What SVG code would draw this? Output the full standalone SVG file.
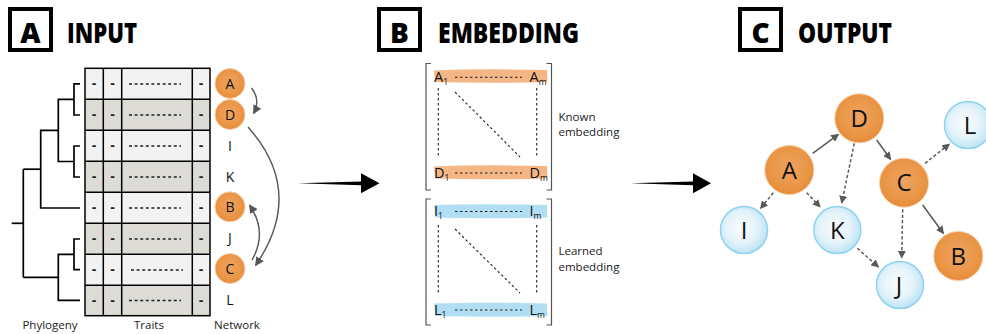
<svg xmlns="http://www.w3.org/2000/svg" width="986" height="334" viewBox="0 0 986 334">
<style>
.title{font-family:"Open Sans","Liberation Sans",sans-serif;font-weight:800;font-size:28px;fill:#000}
.box{fill:none;stroke:#000;stroke-width:4}
.lbl{font-family:"Open Sans","Liberation Sans",sans-serif;font-size:11.5px;fill:#222}
.nl{font-family:"Open Sans","Liberation Sans",sans-serif;font-size:14px;fill:#111;text-anchor:middle}
.big{font-family:"Open Sans","Liberation Sans",sans-serif;font-size:24px;fill:#111;text-anchor:middle}
.cell{font-family:"Liberation Sans",sans-serif;font-size:14px;font-weight:bold;fill:#222;text-anchor:middle}
.mx{font-family:"Open Sans","Liberation Sans",sans-serif;font-size:14.5px;fill:#111}
.sub{font-size:8.5px}
.tree{fill:none;stroke:#000;stroke-width:1.7}
.grid{fill:none;stroke:#000;stroke-width:1.5}
.dots{stroke:#222;stroke-width:1.3;stroke-dasharray:3,2.6}
.mdot{stroke:#222;stroke-width:1.1;stroke-dasharray:2.5,2.5;fill:none}
.brk{fill:none;stroke:#555;stroke-width:1.2}
.curve{fill:none;stroke:#555;stroke-width:1.4}
.edge{stroke:#595959;stroke-width:1.5;fill:none}
.dash{stroke-dasharray:3.2,2.2}
.orange{fill:url(#og);stroke:#f6cfa8;stroke-width:1}
.blue{fill:url(#bg);stroke:#8fd2f0;stroke-width:1.5}
</style>
<defs>
<radialGradient id="og" cx="50%" cy="45%" r="55%">
<stop offset="0" stop-color="#eea461"/>
<stop offset="0.8" stop-color="#e99443"/>
<stop offset="1" stop-color="#e58a36"/>
</radialGradient>
<radialGradient id="bg" cx="45%" cy="45%" r="55%">
<stop offset="0" stop-color="#f8fcfe"/>
<stop offset="0.6" stop-color="#e4f3fa"/>
<stop offset="1" stop-color="#bfe4f5"/>
</radialGradient>
<marker id="ah" viewBox="0 0 10 10" refX="9" refY="5" markerWidth="9" markerHeight="9" markerUnits="userSpaceOnUse" orient="auto">
<path d="M0,0 L10,5 L0,10 z" fill="#555"/>
</marker>
<marker id="ah2" viewBox="0 0 10 10" refX="9" refY="5" markerWidth="8" markerHeight="8" markerUnits="userSpaceOnUse" orient="auto">
<path d="M0,0 L10,5 L0,10 z" fill="#595959"/>
</marker>
</defs>
<rect width="986" height="334" fill="#fff"/>

<!-- Headers -->
<g id="header-A">
<rect class="box" x="10" y="9" width="41" height="41"/>
<text class="title" x="30.5" y="43" text-anchor="middle">A</text>
<text class="title" x="67" y="43" textLength="70" lengthAdjust="spacingAndGlyphs">INPUT</text>
</g>
<g id="header-B">
<rect class="box" x="379" y="9" width="41" height="41"/>
<text class="title" x="399.5" y="43" text-anchor="middle">B</text>
<text class="title" x="438" y="43" textLength="141" lengthAdjust="spacingAndGlyphs">EMBEDDING</text>
</g>
<g id="header-C">
<rect class="box" x="740" y="9" width="41" height="41"/>
<text class="title" x="760.5" y="43" text-anchor="middle">C</text>
<text class="title" x="798" y="43" textLength="94" lengthAdjust="spacingAndGlyphs">OUTPUT</text>
</g>

<!-- Phylogeny -->
<g id="phylogeny">
<path class="tree" d="M80,83.8 H74 V115 H80"/>
<path class="tree" d="M80,146 H74 V177 H80"/>
<path class="tree" d="M74,99.4 H58.3 V161.5 H74"/>
<path class="tree" d="M58.3,130.4 H40.7 V208 H80"/>
<path class="tree" d="M40.7,169.2 H23.3"/>
<path class="tree" d="M80,239 H74 V269.7 H80"/>
<path class="tree" d="M74,254.3 H58.3 V300.3 H80"/>
<path class="tree" d="M58.3,277.3 H23.3"/>
<path class="tree" d="M23.3,169.2 V277.3"/>
<path class="tree" d="M23.3,223.3 H11.7"/>
</g>

<!-- Traits table -->
<g id="traits">
<rect x="85" y="68.3" width="125" height="31" fill="#f2f2f2"/>
<rect x="85" y="99.3" width="125" height="31" fill="#dcdbd6"/>
<rect x="85" y="130.3" width="125" height="31" fill="#f2f2f2"/>
<rect x="85" y="161.3" width="125" height="31" fill="#dcdbd6"/>
<rect x="85" y="192.3" width="125" height="31" fill="#f2f2f2"/>
<rect x="85" y="223.3" width="125" height="31" fill="#dcdbd6"/>
<rect x="85" y="254.3" width="125" height="31" fill="#f2f2f2"/>
<rect x="85" y="285.3" width="125" height="30.4" fill="#dcdbd6"/>
<rect class="grid" x="85" y="68.3" width="125" height="247.4"/>
<path class="grid" d="M85,99.3 H210 M85,130.3 H210 M85,161.3 H210 M85,192.3 H210 M85,223.3 H210 M85,254.3 H210 M85,285.3 H210 M103.3,68.3 V315.7 M121.7,68.3 V315.7 M192.3,68.3 V315.7"/>
<g class="cell">
<text x="94.2" y="88">-</text><text x="112.5" y="88">-</text><text x="201.2" y="88">-</text>
<text x="94.2" y="119">-</text><text x="112.5" y="119">-</text><text x="201.2" y="119">-</text>
<text x="94.2" y="150">-</text><text x="112.5" y="150">-</text><text x="201.2" y="150">-</text>
<text x="94.2" y="181">-</text><text x="112.5" y="181">-</text><text x="201.2" y="181">-</text>
<text x="94.2" y="212">-</text><text x="112.5" y="212">-</text><text x="201.2" y="212">-</text>
<text x="94.2" y="243">-</text><text x="112.5" y="243">-</text><text x="201.2" y="243">-</text>
<text x="94.2" y="274">-</text><text x="112.5" y="274">-</text><text x="201.2" y="274">-</text>
<text x="94.2" y="305">-</text><text x="112.5" y="305">-</text><text x="201.2" y="305">-</text>
</g>
<path class="dots" d="M129,84 H181 M129,115 H181 M129,146 H181 M129,177 H181 M129,208 H181 M129,239 H181 M131,270 H183 M129,300.5 H181"/>
</g>

<!-- Network column (panel A) -->
<g id="netA-A"><circle class="orange" cx="230" cy="83.5" r="15"/><text class="nl" x="230" y="88.5">A</text></g>
<g id="netA-D"><circle class="orange" cx="230" cy="114.5" r="15"/><text class="nl" x="230" y="119.5">D</text></g>
<g id="netA-I"><text class="nl" x="230" y="150.5">I</text></g>
<g id="netA-K"><text class="nl" x="230" y="181.5">K</text></g>
<g id="netA-B"><circle class="orange" cx="230" cy="206.8" r="15"/><text class="nl" x="230" y="211.8">B</text></g>
<g id="netA-J"><text class="nl" x="230" y="243">J</text></g>
<g id="netA-C"><circle class="orange" cx="230" cy="268.5" r="15"/><text class="nl" x="230" y="273.5">C</text></g>
<g id="netA-L"><text class="nl" x="230" y="305">L</text></g>
<g id="netA-connectors">
<path class="curve" d="M251.5,88 Q261,100 253.5,113.5" marker-end="url(#ah)"/>
<path class="curve" d="M248,127 Q306,192 255.5,265.5" marker-end="url(#ah)"/>
<path class="curve" d="M252,260 Q268,232 249.5,205" marker-end="url(#ah)"/>
</g>

<g id="labelsA">
<text class="lbl" x="50" y="329" text-anchor="middle">Phylogeny</text>
<text class="lbl" x="149" y="329" text-anchor="middle">Traits</text>
<text class="lbl" x="237" y="329" text-anchor="middle">Network</text>
</g>

<!-- Big arrows -->
<g id="arrows-between">
<path d="M298,183.3 L361,181.5 L361,173.3 L379.5,183.3 L361,193.3 L361,185.3 Z" fill="#000"/>
<path d="M630,183.3 L693,181.5 L693,173.3 L711,183.3 L693,193.3 L693,185.3 Z" fill="#000"/>
</g>

<!-- Embedding matrices -->
<g id="known-embedding">
<path class="brk" d="M431,63.5 H426 V190 H431 M546.5,63.5 H551.5 V190 H546.5"/>
<path d="M434,70.5 Q480,68.5 547,70 L547.5,82 Q490,83.5 435,82 Z" fill="#f4ae78" opacity="0.9"/>
<path d="M434,166.5 Q480,164.5 547,166 L547.5,178.5 Q490,180 435,178.5 Z" fill="#f4ae78" opacity="0.9"/>
<text class="mx" x="434" y="82">A<tspan class="sub" dy="3">1</tspan></text>
<text class="mx" x="529.5" y="82">A<tspan class="sub" dy="3">m</tspan></text>
<path class="mdot" d="M455,77.3 H522"/>
<text class="mx" x="434" y="177.5">D<tspan class="sub" dy="3">1</tspan></text>
<text class="mx" x="529.5" y="177.5">D<tspan class="sub" dy="3">m</tspan></text>
<path class="mdot" d="M455,173 H522"/>
<path class="mdot" d="M438.3,88 V158 M536.7,88 V158 M455,92 L520,157"/>
<text class="lbl" x="558.5" y="121">Known</text>
<text class="lbl" x="558.5" y="136">embedding</text>
</g>
<g id="learned-embedding">
<path class="brk" d="M431,199 H426 V325 H431 M546.5,199 H551.5 V325 H546.5"/>
<path d="M434,205 Q480,203.5 547,205 L547.5,217.5 Q490,219 435,217.5 Z" fill="#a8daf1" opacity="0.9"/>
<path d="M434,303.5 Q480,302 547,303.5 L547.5,316 Q490,317.5 435,316 Z" fill="#a8daf1" opacity="0.9"/>
<text class="mx" x="434" y="216">I<tspan class="sub" dy="3">1</tspan></text>
<text class="mx" x="529.5" y="216">I<tspan class="sub" dy="3">m</tspan></text>
<path class="mdot" d="M455,211.5 H522"/>
<text class="mx" x="434" y="314.5">L<tspan class="sub" dy="3">1</tspan></text>
<text class="mx" x="529.5" y="314.5">L<tspan class="sub" dy="3">m</tspan></text>
<path class="mdot" d="M455,310 H522"/>
<path class="mdot" d="M438.3,225 V293 M536.7,225 V293 M455,229 L520,293"/>
<text class="lbl" x="558.5" y="255">Learned</text>
<text class="lbl" x="558.5" y="271">embedding</text>
</g>

<!-- Output network -->
<g id="output-connectors">
<path class="edge" d="M812.7,153.3 L838.5,134.3" marker-end="url(#ah2)"/>
<path class="edge" d="M876.7,140 L890.7,159.5" marker-end="url(#ah2)"/>
<path class="edge" d="M922.7,205 L943.5,233.5" marker-end="url(#ah2)"/>
<path class="edge dash" d="M854.3,143.3 L841.7,203" marker-end="url(#ah2)"/>
<path class="edge dash" d="M773.3,192.7 L760.5,208.5" marker-end="url(#ah2)"/>
<path class="edge dash" d="M806.7,192.7 L820.2,207" marker-end="url(#ah2)"/>
<path class="edge dash" d="M925,163.3 L949.5,144" marker-end="url(#ah2)"/>
<path class="edge dash" d="M902.7,209.3 L901.7,258" marker-end="url(#ah2)"/>
<path class="edge dash" d="M857.3,248.3 L878.5,267" marker-end="url(#ah2)"/>
</g>
<g id="out-D"><circle class="orange" cx="859.3" cy="118.3" r="24.5"/><text class="big" x="859.3" y="126.8">D</text></g>
<g id="out-A"><circle class="orange" cx="789.3" cy="170" r="24.5"/><text class="big" x="789.3" y="178.5">A</text></g>
<g id="out-C"><circle class="orange" cx="904" cy="182.7" r="24.5"/><text class="big" x="904" y="191.2">C</text></g>
<g id="out-B"><circle class="orange" cx="958.3" cy="256" r="24.5"/><text class="big" x="958.3" y="264.5">B</text></g>
<g id="out-L"><circle class="blue" cx="968" cy="125" r="23.5"/><text class="big" x="970" y="133.5">L</text></g>
<g id="out-I"><circle class="blue" cx="744" cy="230" r="23.5"/><text class="big" x="744" y="238.5">I</text></g>
<g id="out-K"><circle class="blue" cx="837.3" cy="230" r="23.5"/><text class="big" x="837.3" y="238.5">K</text></g>
<g id="out-J"><circle class="blue" cx="900" cy="285" r="23.5"/><text class="big" x="899" y="293.5">J</text></g>
</svg>
